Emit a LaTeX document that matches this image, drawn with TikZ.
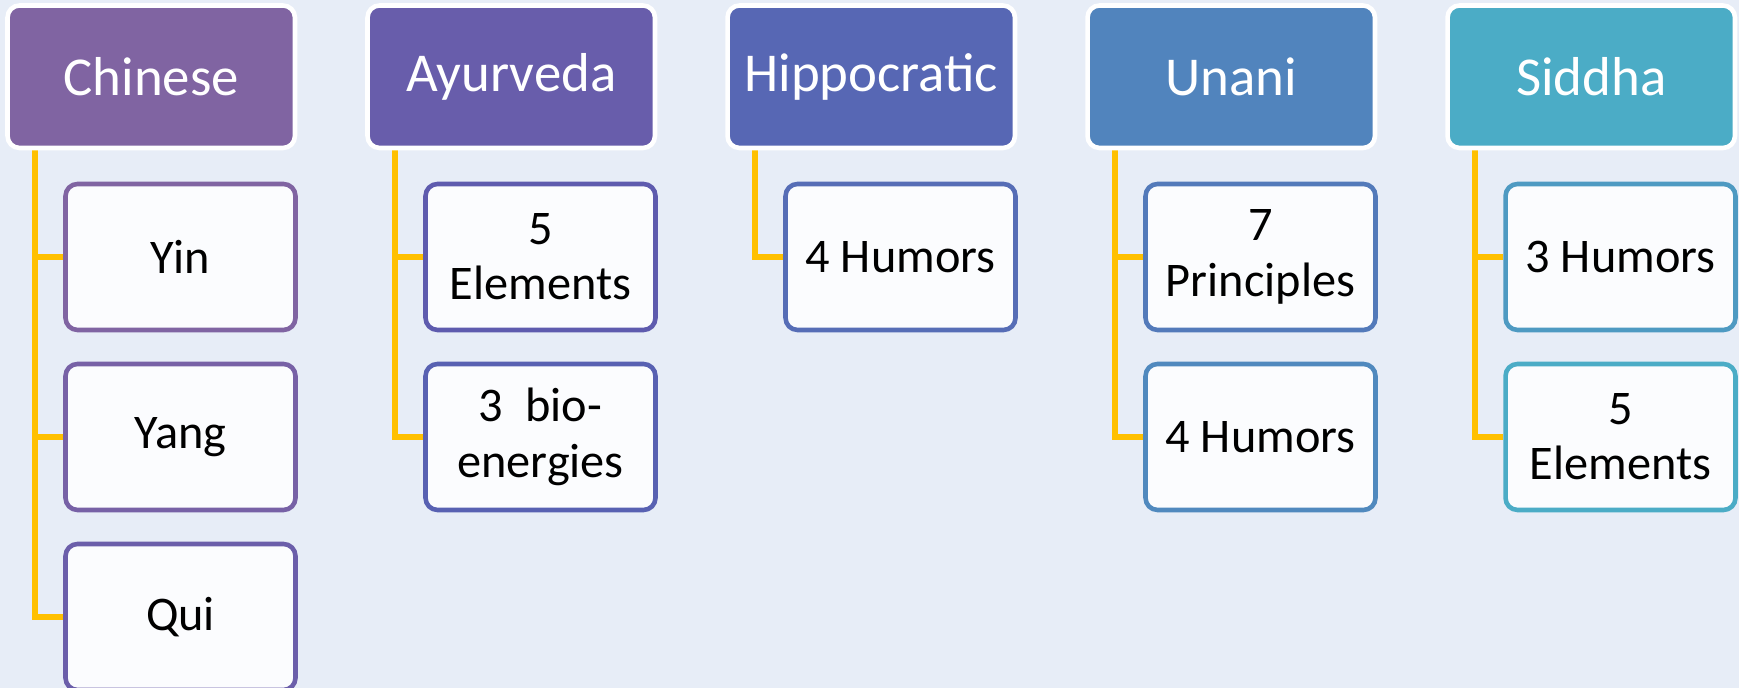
\documentclass[tikz,border=0pt]{standalone}
\usepackage{fontspec}
\setmainfont{Carlito}
\pgfdeclarelayer{bg}
\pgfsetlayers{bg,main}
\definecolor{bgc}{HTML}{E7EDF7}
\definecolor{lineC}{HTML}{FFC000}
\definecolor{hA}{HTML}{8064A2}
\definecolor{hB}{HTML}{685DAB}
\definecolor{hC}{HTML}{5767B4}
\definecolor{hD}{HTML}{5184BD}
\definecolor{hE}{HTML}{4BACC6}
\definecolor{k0}{HTML}{8064A2}
\definecolor{k1}{HTML}{7761A6}
\definecolor{k2}{HTML}{6B5EAA}
\definecolor{k3}{HTML}{5E5BAE}
\definecolor{k4}{HTML}{5861B2}
\definecolor{k5}{HTML}{566DB6}
\definecolor{k6}{HTML}{537ABA}
\definecolor{k7}{HTML}{5089BE}
\definecolor{k8}{HTML}{4E9AC2}
\definecolor{k9}{HTML}{4BACC6}
\definecolor{childfill}{HTML}{FBFCFE}
\tikzset{
  headbox/.style={draw=white, line width=2.6pt, rounded corners=0.24cm,
    minimum width=5.75cm, minimum height=2.85cm, inner sep=0pt,
    text=white, font=\fontsize{31.2}{37}\selectfont},
  childbox/.style={fill=childfill, line width=2.6pt, rounded corners=0.24cm,
    minimum width=4.6cm, minimum height=2.92cm, inner sep=0pt,
    text=black, align=center, font=\fontsize{27.5}{31.5}\selectfont},
  conn/.style={draw=lineC, line width=3.2pt}
}
\begin{document}
\begin{tikzpicture}[x=0.02cm, y=-0.02cm]
\begin{pgfonlayer}{bg}
\fill[bgc] (0,0) rectangle (1739,688);
\end{pgfonlayer}
\useasboundingbox (0,0) rectangle (1739,688);

% headers
\node[headbox, fill=hA] (h1) at (151.25,76.75) {Chinese};
\node[headbox, fill=hB] (h2) at (511.25,76.75) {Ayurveda};
\node[headbox, fill=hC] (h3) at (871.25,76.75) {Hippocratic};
\node[headbox, fill=hD] (h4) at (1231.25,76.75) {Unani};
\node[headbox, fill=hE] (h5) at (1591.25,76.75) {Siddha};

% children
\node[childbox, draw=k0] (c1a) at (180.5,257) {Yin};
\node[childbox, draw=k1] (c1b) at (180.5,437) {Yang};
\node[childbox, draw=k2] (c1c) at (180.5,617) {Qui};
\node[childbox, draw=k3] (c2a) at (540.5,257) {5\\Elements};
\node[childbox, draw=k4] (c2b) at (540.5,437) {3\ \ bio-\\energies};
\node[childbox, draw=k5] (c3a) at (900.5,257) {4 Humors};
\node[childbox, draw=k6] (c4a) at (1260.5,257) {7\\Principles};
\node[childbox, draw=k7] (c4b) at (1260.5,437) {4 Humors};
\node[childbox, draw=k8] (c5a) at (1620.5,257) {3 Humors};
\node[childbox, draw=k9] (c5b) at (1620.5,437) {5\\Elements};

% connectors
\begin{pgfonlayer}{bg}
\draw[conn] ([xshift=0.59cm]h1.south west) |- (c1a.west);
\draw[conn] ([xshift=0.59cm]h1.south west) |- (c1b.west);
\draw[conn] ([xshift=0.59cm]h1.south west) |- (c1c.west);
\draw[conn] ([xshift=0.59cm]h2.south west) |- (c2a.west);
\draw[conn] ([xshift=0.59cm]h2.south west) |- (c2b.west);
\draw[conn] ([xshift=0.59cm]h3.south west) |- (c3a.west);
\draw[conn] ([xshift=0.59cm]h4.south west) |- (c4a.west);
\draw[conn] ([xshift=0.59cm]h4.south west) |- (c4b.west);
\draw[conn] ([xshift=0.59cm]h5.south west) |- (c5a.west);
\draw[conn] ([xshift=0.59cm]h5.south west) |- (c5b.west);
\end{pgfonlayer}
\end{tikzpicture}
\end{document}
